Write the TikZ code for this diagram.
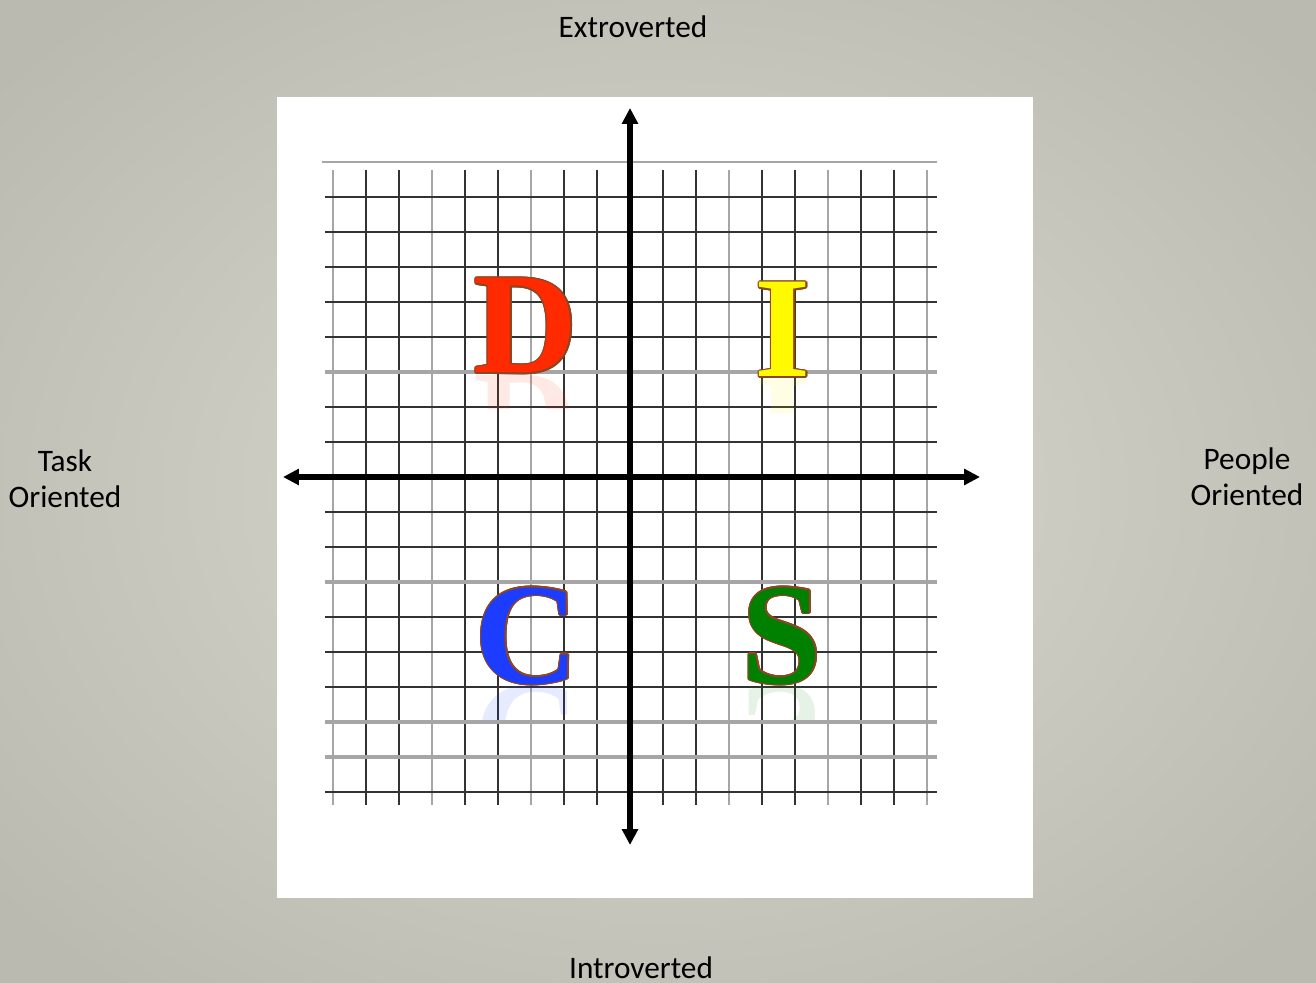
\documentclass[tikz,border=0pt]{standalone}
\usepackage{fontspec}
\setmainfont{Carlito}
\newfontfamily\discfont{Liberation Serif}
\usepackage{contour}
\usetikzlibrary{arrows.meta}
\contourlength{0.35pt}

\definecolor{bgin}{RGB}{218,218,209}
\definecolor{bgout}{RGB}{186,186,176}
\definecolor{discred}{RGB}{255,42,0}
\definecolor{discyellow}{RGB}{255,250,0}
\definecolor{discblue}{RGB}{28,60,255}
\definecolor{discgreen}{RGB}{0,128,0}
\definecolor{rim}{RGB}{140,70,35}

\tikzset{
  side label/.style={font=\fontsize{8.9}{10.2}\selectfont, align=center, text=black, inner sep=0pt},
  letter/.style={font=\discfont\bfseries\fontsize{41}{41}\selectfont, inner sep=0pt, anchor=base},
  mirror/.style={letter, yscale=-1, opacity=0.1},
  grid line/.style={black!80, line width=0.6pt},
  faint line/.style={black!35, line width=0.8pt},
  axis/.style={line width=1.6pt, {Triangle[length=4.5pt,width=4.4pt]}-{Triangle[length=4.5pt,width=4.4pt]}}
}

\begin{document}
\begin{tikzpicture}[x=0.01cm, y=-0.01cm]
  \useasboundingbox (0,0) rectangle (1316,983);
  \begin{scope}
    \clip (0,0) rectangle (1316,983);
    \shade[inner color=bgin, outer color=bgout] (-200,-150) rectangle (1516,1133);
  \end{scope}
  \fill[white] (277,97) rectangle (1033,898);

  % Grid
  \foreach \k in {-9,...,-1,1,2,...,9} {
    \pgfmathtruncatemacro{\shadev}{mod(\k+12,3)==0 ? 1 : 0}
    \ifnum\shadev=1
      \draw[faint line] (630+33*\k,170) -- (630+33*\k,805);
    \else
      \draw[grid line] (630+33*\k,170) -- (630+33*\k,805);
    \fi
  }
  \foreach \k in {-8,...,-1,1,2,...,9} {
    \draw[grid line] (325,477+35*\k) -- (937,477+35*\k);
  }
  \draw[faint line] (322,162) -- (937,162);
  \foreach \k in {-3,3,7,8} {
    \draw[faint line, line width=1.2pt] (325,477+35*\k) -- (937,477+35*\k);
  }

  % Axes
  \coordinate (top) at (630,108);
  \coordinate (bottom) at (630,845);
  \coordinate (left) at (283,477);
  \coordinate (right) at (980,477);
  \draw[axis] (bottom) -- (top);
  \draw[axis] (left) -- (right);

  % Letters and their reflections
  \foreach \name/\x/\y/\col in {D/526/373/discred, I/783/377/discyellow, C/527/683/discblue, S/782/683/discgreen} {
    \begin{scope}
      \clip (\x-70,\y+2) rectangle (\x+70,\y+36);
      \node[mirror, text=\col] at (\x,\y+3) {\name};
    \end{scope}
    \node[letter] (\name) at (\x,\y) {\contour{rim}{\textcolor{\col}{\name}}};
  }

  % Side labels
  \node[side label] (extro) at (633,27) {Extroverted};
  \node[side label] (intro) at (641,968) {Introverted};
  \node[side label] (task) at (65,479) {Task\\Oriented};
  \node[side label] (people) at (1247,477) {People\\Oriented};
\end{tikzpicture}
\end{document}
